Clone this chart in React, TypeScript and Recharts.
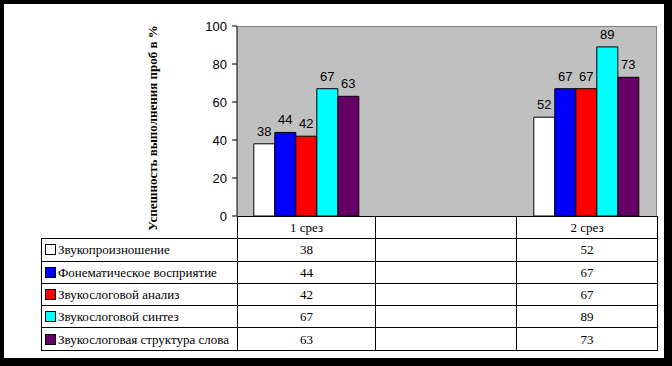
import { BarChart, Bar, XAxis, YAxis, CartesianGrid, LabelList } from "recharts";

const categories = ["1 срез", "", "2 срез"];
const seriesNames = [
  "Звукопроизношение",
  "Фонематическое восприятие",
  "Звукослоговой анализ",
  "Звукослоговой синтез",
  "Звукослоговая структура слова",
];
const zvukoproiznoshenie = [38, null, 52];
const fonematicheskoe = [44, null, 67];
const analiz = [42, null, 67];
const sintez = [67, null, 89];
const struktura = [63, null, 73];
const seriesColors = ["#FFFFFF", "#0000FF", "#FF0000", "#00FFFF", "#660066"];
const yTicks = [0, 20, 40, 60, 80, 100];

const seriesValues = [zvukoproiznoshenie, fonematicheskoe, analiz, sintez, struktura];
const data = categories.map((name, i) => {
  const row: Record<string, string | number | null> = { name };
  seriesValues.forEach((vals, s) => {
    row["s" + s] = vals[i];
  });
  return row;
});

const serif = "'Liberation Serif', 'Times New Roman', serif";
const sans = "'Liberation Sans', Arial, sans-serif";

const cell: React.CSSProperties = {
  border: "1px solid #000",
  padding: 0,
  height: 21.3,
  lineHeight: "15px",
  textAlign: "center",
  fontFamily: serif,
  fontSize: 13,
  color: "#000",
};

export default function App() {
  return (
    <div style={{ position: "fixed", left: 0, top: 0, width: 672, height: 366, background: "#000" }}>
      <div style={{ position: "absolute", left: 4, top: 4, width: 660, height: 354, background: "#fff" }} />
      <div style={{ position: "absolute", left: 0, top: 0 }}>
        <BarChart
          width={672}
          height={366}
          data={data}
          margin={{ top: 26, right: 15, bottom: 150, left: 177 }}
          barCategoryGap="12%"
          barGap={0}
        >
          <CartesianGrid fill="#C0C0C0" horizontal={false} vertical={false} />
          <XAxis dataKey="name" hide />
          <YAxis
            width={60}
            domain={[0, 100]}
            ticks={yTicks}
            interval={0}
            axisLine={{ stroke: "#000" }}
            tickLine={{ stroke: "#000" }}
            tickSize={5}
            tickMargin={5}
            tick={{ fontSize: 13, fill: "#000", fontFamily: sans }}
          />
          {seriesNames.map((n, s) => (
            <Bar
              key={n}
              dataKey={"s" + s}
              name={n}
              fill={seriesColors[s]}
              stroke="#000"
              strokeWidth={1}
              isAnimationActive={false}
            >
              <LabelList
                dataKey={"s" + s}
                position="top"
                offset={8}
                style={{ fontSize: 13, fill: "#000", fontFamily: sans }}
              />
            </Bar>
          ))}
        </BarChart>
      </div>
      {/* plot border, top and right */}
      <div
        style={{
          position: "absolute",
          left: 237,
          top: 26,
          width: 419,
          height: 190,
          borderTop: "1px solid #808080",
          borderRight: "1px solid #808080",
          pointerEvents: "none",
        }}
      />
      {/* axis title */}
      <div
        style={{
          position: "absolute",
          left: 153,
          top: 128,
          transform: "translate(-50%, -50%) rotate(-90deg)",
          whiteSpace: "nowrap",
          fontFamily: serif,
          fontWeight: "bold",
          fontSize: 13,
          color: "#000",
        }}
      >
        Успешность выполнения проб в %
      </div>
      {/* data table */}
      <table
        style={{
          position: "absolute",
          left: 41,
          top: 216,
          borderCollapse: "collapse",
          tableLayout: "fixed",
          width: 616,
        }}
      >
        <colgroup>
          <col style={{ width: 196 }} />
          <col style={{ width: 138 }} />
          <col style={{ width: 141 }} />
          <col style={{ width: 141 }} />
        </colgroup>
        <tbody>
          <tr>
            <td style={{ ...cell, border: "none", borderBottom: "1px solid #000" }} />
            {categories.map((c, i) => (
              <td key={i} style={cell}>
                {c}
              </td>
            ))}
          </tr>
          {seriesNames.map((n, s) => (
            <tr key={n}>
              <td style={{ ...cell, textAlign: "left", whiteSpace: "nowrap" }}>
                <span
                  style={{
                    display: "inline-block",
                    width: 9,
                    height: 9,
                    background: seriesColors[s],
                    border: "1px solid #000",
                    margin: "0 2px 0 3px",
                    verticalAlign: "-1px",
                  }}
                />
                {n}
              </td>
              {seriesValues[s].map((v, i) => (
                <td key={i} style={cell}>
                  {v ?? ""}
                </td>
              ))}
            </tr>
          ))}
        </tbody>
      </table>
    </div>
  );
}
